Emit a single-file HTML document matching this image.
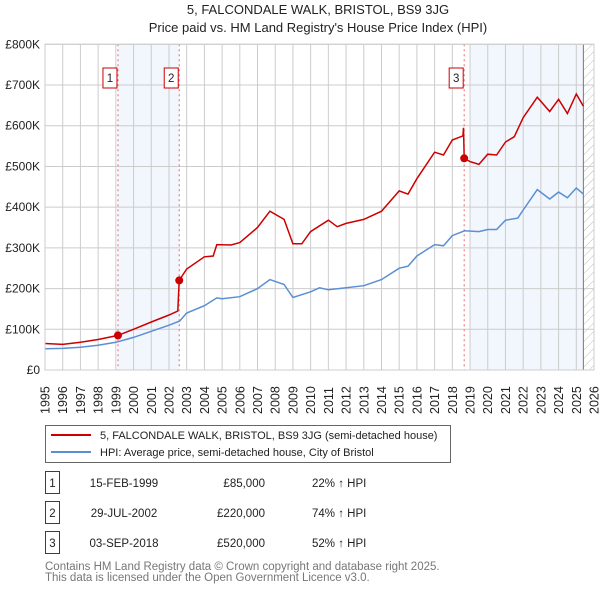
<!DOCTYPE html>
<html><head><meta charset="utf-8"><style>
body{margin:0;background:#fff;}
svg{display:block;font-family:"Liberation Sans","DejaVu Sans",sans-serif;}
</style></head><body>
<svg id="c" width="600" height="590" xmlns="http://www.w3.org/2000/svg">
<defs><pattern id="hatch" width="6" height="6" patternUnits="userSpaceOnUse" patternTransform="rotate(45)"><line x1="0" y1="0" x2="0" y2="6" stroke="#bbb" stroke-width="1"/></pattern></defs>
<text x="318" y="14" text-anchor="middle" font-size="13" fill="#222">5, FALCONDALE WALK, BRISTOL, BS9 3JG</text>
<text x="318" y="32" text-anchor="middle" font-size="13" fill="#222">Price paid vs. HM Land Registry's House Price Index (HPI)</text>
<g id="plot"></g>
<g>
<rect x="45.5" y="425.5" width="405" height="37" fill="#fff" stroke="#666"/>
<line x1="51" y1="435" x2="91" y2="435" stroke="#cc0000" stroke-width="2"/>
<text x="100" y="439" font-size="11" fill="#222">5, FALCONDALE WALK, BRISTOL, BS9 3JG (semi-detached house)</text>
<line x1="51" y1="452" x2="91" y2="452" stroke="#5b8fd4" stroke-width="2"/>
<text x="100" y="456" font-size="11" fill="#222">HPI: Average price, semi-detached house, City of Bristol</text>
</g>
<g id="table" font-size="11.5" fill="#222"></g>
<text x="45" y="570" font-size="11.5" fill="#777">Contains HM Land Registry data © Crown copyright and database right 2025.</text>
<text x="45" y="581" font-size="11.5" fill="#777">This data is licensed under the Open Government Licence v3.0.</text>
</svg>
<script>
const yTicks=[0,100,200,300,400,500,600,700,800];
const yTickLabels=["£0","£100K","£200K","£300K","£400K","£500K","£600K","£700K","£800K"];
const years=[1995,1996,1997,1998,1999,2000,2001,2002,2003,2004,2005,2006,2007,2008,2009,2010,2011,2012,2013,2014,2015,2016,2017,2018,2019,2020,2021,2022,2023,2024,2025,2026];
const hpiT=[1995,1996,1997,1998,1999,2000,2001,2002,2002.6,2003,2004,2004.7,2005,2006,2007,2007.7,2008.5,2009,2010,2010.5,2011,2012,2013,2014,2015,2015.5,2016,2017,2017.5,2018,2018.7,2019.5,2020,2020.5,2021,2021.7,2022,2022.8,2023.5,2024,2024.5,2025,2025.4];
const hpiV=[52,53,56,61,68,80,95,110,120,140,158,177,175,180,200,222,210,178,192,202,197,202,207,222,250,255,280,308,305,330,342,340,345,345,368,373,393,443,420,437,423,447,432];
const priceT=[1995,1996,1997,1998,1999.12,2000,2001,2002,2002.5,2002.58,2003,2004,2004.5,2004.7,2005.5,2006,2007,2007.7,2008.5,2009,2009.5,2010,2011,2011.5,2012,2013,2014,2015,2015.5,2016,2017,2017.5,2018,2018.6,2018.63,2018.67,2019,2019.5,2020,2020.5,2021,2021.5,2022,2022.8,2023.5,2024,2024.5,2025,2025.4];
const priceV=[65,63,68,75,85,100,118,135,145,220,248,278,280,308,307,313,350,390,370,310,310,340,368,352,360,370,390,440,432,470,535,528,565,575,595,520,512,505,530,528,560,573,620,670,635,665,630,678,648];
const saleT=[1999.12,2002.58,2018.67];
const saleV=[85,220,520];
const saleLabels=["1","2","3"];
const saleDates=["15-FEB-1999","29-JUL-2002","03-SEP-2018"];
const salePrices=["£85,000","£220,000","£520,000"];
const saleHpi=["22% ↑ HPI","74% ↑ HPI","52% ↑ HPI"];
const shadeStart=[1999.12,2019];
const shadeEnd=[2002.58,2025.4];

const NS="http://www.w3.org/2000/svg";
const X0=45,X1=594,Y0=370,Y1=44.3;
const x=t=>X0+(t-1995)/(2026-1995)*(X1-X0);
const y=v=>Y0-v/800*(Y0-Y1);
const plot=document.getElementById('plot');
function mk(tag,attrs,parent){const e=document.createElementNS(NS,tag);for(const k in attrs)e.setAttribute(k,attrs[k]);(parent||plot).appendChild(e);return e;}
for(let i=0;i<shadeStart.length;i++){
 const r=mk('rect',{x:x(shadeStart[i]),y:Y1,width:x(shadeEnd[i])-x(shadeStart[i]),height:Y0-Y1,fill:'#f2f6fd'});
 
 
}
const h=mk('rect',{x:x(2025.4),y:Y1,width:X1-x(2025.4),height:Y0-Y1,fill:'url(#hatch)'});


years.forEach(yr=>{
 const l=mk('line',{x1:x(yr),x2:x(yr),y1:Y1,y2:Y0,stroke:'#ccc','stroke-width':1});
 
 
 const t=mk('text',{transform:`translate(${x(yr)+4.5},${Y0+44}) rotate(-90)`,'font-size':12.5,fill:'#222'});
 t.textContent=yr;
 
 
});
yTicks.forEach((v,i)=>{
 const l=mk('line',{x1:X0,x2:X1,y1:y(v),y2:y(v),stroke:'#ccc','stroke-width':1});
 
 
 const t=mk('text',{x:40,y:y(v)+4,'text-anchor':'end','font-size':12,fill:'#222'});
 t.textContent=yTickLabels[i];
 
 
});
const bx=mk('line',{x1:x(2025.4),x2:x(2025.4),y1:Y1,y2:Y0,stroke:'#777','stroke-width':1});


saleT.forEach((t,i)=>{
 const l=mk('line',{x1:x(t),x2:x(t),y1:Y1,y2:Y0,stroke:'#e66','stroke-width':1,'stroke-dasharray':'2,3'});
 
 
 const g=mk('g',{});
 
 
 mk('rect',{x:x(t)-15,y:68,width:14,height:20,fill:'#fff',stroke:'#cc0000'},g);
 const tx=mk('text',{x:x(t)-8,y:82,'text-anchor':'middle','font-size':11.5,fill:'#222'},g);
 tx.textContent=saleLabels[i];
});
function path(T,V){return T.map((t,i)=>(i?'L':'M')+x(t).toFixed(1)+','+y(V[i]).toFixed(1)).join('');}
const hp=mk('path',{d:path(hpiT,hpiV),fill:'none',stroke:'#5b8fd4','stroke-width':1.5});


const pp=mk('path',{d:path(priceT,priceV),fill:'none',stroke:'#cc0000','stroke-width':1.5});


saleT.forEach((t,i)=>{
 const c=mk('circle',{cx:x(t),cy:y(saleV[i]),r:4,fill:'#cc0000'});
 
 
});
const border=mk('rect',{x:X0,y:Y1,width:X1-X0,height:Y0-Y1,fill:'none',stroke:'#ccc'});


const tb=document.getElementById('table');
const rowY=[483,513,543];
saleLabels.forEach((s,i)=>{
 const g=mk('g',{},tb);
 
 
 mk('rect',{x:45.5,y:rowY[i]-11.5,width:14,height:22,fill:'#fff',stroke:'#cc0000'},g);
 const a=mk('text',{x:52.5,y:rowY[i]+4,'text-anchor':'middle'},g);a.textContent=s;
 const b=mk('text',{x:124,y:rowY[i]+4,'text-anchor':'middle'},g);b.textContent=saleDates[i];
 const c=mk('text',{x:265,y:rowY[i]+4,'text-anchor':'end'},g);c.textContent=salePrices[i];
 const d=mk('text',{x:312,y:rowY[i]+4},g);d.textContent=saleHpi[i];
});
</script>
</body></html>
